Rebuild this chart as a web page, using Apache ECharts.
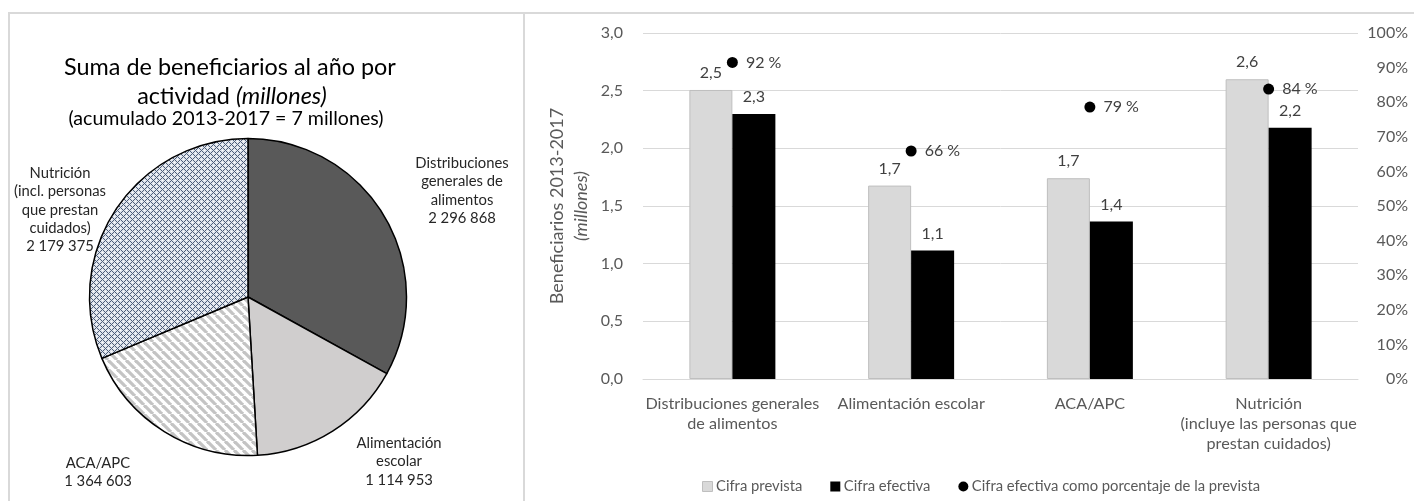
<!DOCTYPE html>
<html>
<head>
<meta charset="utf-8">
<script src="https://cdn.jsdelivr.net/npm/echarts@6/dist/echarts.min.js"></script>
<style>
html,body{margin:0;padding:0;background:#fff;}
#c{width:1415px;height:501px;}
</style>
</head>
<body>
<div id="c"></div>
<script>
// ---- data ----
const categories = ['Distribuciones generales\nde alimentos', 'Alimentación escolar', 'ACA/APC', 'Nutrición\n(incluye las personas que\nprestan cuidados)'];
const planned = [2.506, 1.677, 1.741, 2.599];          // Cifra prevista (millones)
const actual = [2.296868, 1.114953, 1.364603, 2.179375]; // Cifra efectiva (millones)
const pctActual = [0.915, 0.659, 0.786, 0.838];          // Cifra efectiva como porcentaje de la prevista
const leftTicks = [0, 3, 0.5];
const seriesNames = ['Cifra prevista', 'Cifra efectiva', 'Cifra efectiva como porcentaje de la prevista'];

const pieNames = ['Distribuciones\ngenerales de\nalimentos', 'Alimentación\nescolar', 'ACA/APC', 'Nutrición\n(incl. personas\nque prestan\ncuidados)'];
const pieValues = [2296868, 1114953, 1364603, 2179375];
const pieTitle = ['Suma de beneficiarios al año por', 'actividad ', '(millones)', '(acumulado 2013-2017 = 7 millones)'];

// ---- layout / style (not data) ----
const pieLabelPos = [[462, 154], [399, 434], [98, 454], [60, 164]];
const FONT = 'Lato, "Liberation Sans", sans-serif';

function makeStripes() {
  const c = document.createElement('canvas');
  c.width = 9; c.height = 9;
  const g = c.getContext('2d');
  g.fillStyle = '#fff'; g.fillRect(0, 0, 9, 9);
  g.strokeStyle = '#c4c4c4'; g.lineWidth = 3.2;
  for (const a of [-9, 0, 9]) {
    g.beginPath(); g.moveTo(a, 0); g.lineTo(a + 9, 9); g.stroke();
  }
  return c;
}
function makeDiamonds() {
  const c = document.createElement('canvas');
  c.width = 6; c.height = 6;
  const g = c.getContext('2d');
  g.fillStyle = '#dfe4ec'; g.fillRect(0, 0, 6, 6);
  g.fillStyle = '#4d5d78';
  const pts = [[3,0],[2,1],[4,1],[1,2],[5,2],[0,3],[1,4],[5,4],[2,5],[4,5]];
  for (const p of pts) g.fillRect(p[0], p[1], 1, 1);
  g.fillStyle = '#ffffff';
  g.fillRect(3,3,1,1); g.fillRect(0,0,1,1);
  return c;
}

const fmt1 = v => v.toFixed(1).replace('.', ',');
const fmtInt = v => String(v).replace(/\B(?=(\d{3})+(?!\d))/g, ' ');

const chart = echarts.init(document.getElementById('c'), null, {renderer: 'canvas'});

const pieColors = ['#595959', '#d0cece', {image: makeStripes(), repeat: 'repeat'}, {image: makeDiamonds(), repeat: 'repeat'}];

chart.setOption({
  animation: false,
  textStyle: {fontFamily: FONT},
  grid: {left: 643, top: 33, width: 715, height: 346, containLabel: false},
  legend: {
    data: [
      {name: seriesNames[0], icon: 'rect', itemStyle: {color: '#d9d9d9', borderColor: '#bfbfbf', borderWidth: 1}},
      {name: seriesNames[1], icon: 'rect'},
      {name: seriesNames[2], icon: 'circle'}
    ],
    left: 697, top: 474,
    itemWidth: 10, itemHeight: 10, itemGap: 28,
    textStyle: {fontFamily: FONT, fontSize: 14.8, color: '#595959', padding: [0, 0, 0, -1.5]}
  },
  xAxis: {
    type: 'category', data: categories,
    axisLine: {lineStyle: {color: '#d9d9d9', width: 1}},
    axisTick: {show: false},
    axisLabel: {color: '#595959', fontSize: 16.2, lineHeight: 20, margin: 15, interval: 0}
  },
  yAxis: [
    {
      type: 'value', min: leftTicks[0], max: leftTicks[1], interval: leftTicks[2],
      axisLine: {show: false}, axisTick: {show: false},
      splitLine: {lineStyle: {color: '#d9d9d9', width: 1}},
      axisLabel: {color: '#595959', fontSize: 16, margin: 20, formatter: v => fmt1(v)},
      name: '{a|Beneficiarios 2013-2017}\n{b|(millones)}',
      nameLocation: 'middle', nameRotate: 90, nameGap: 45,
      nameTextStyle: {
        color: '#595959', align: 'center', fontSize: 18, fontFamily: FONT,
        rich: {
          a: {fontFamily: FONT, fontSize: 18, color: '#595959', lineHeight: 24},
          b: {fontFamily: FONT, fontSize: 18, color: '#595959', fontStyle: 'italic', lineHeight: 24}
        }
      }
    },
    {
      type: 'value', min: 0, max: 1, interval: 0.1, position: 'right',
      axisLine: {show: false}, axisTick: {show: false}, splitLine: {show: false},
      axisLabel: {color: '#595959', fontSize: 16, margin: 50, align: 'right', formatter: v => Math.round(v * 100) + '%'}
    }
  ],
  series: [
    {
      name: seriesNames[0], type: 'bar', data: planned, barWidth: 43, barGap: '0%',
      itemStyle: {color: '#d9d9d9', borderColor: '#bfbfbf', borderWidth: 1},
      label: {show: true, position: 'top', distance: 9, color: '#404040', fontSize: 16, formatter: p => fmt1(p.value)}
    },
    {
      name: seriesNames[1], type: 'bar', data: actual, barWidth: 43,
      itemStyle: {color: '#000'},
      label: {show: true, position: 'top', distance: 9, color: '#404040', fontSize: 16, formatter: p => fmt1(p.value)}
    },
    {
      name: seriesNames[2], type: 'scatter', yAxisIndex: 1, data: pctActual, symbolSize: 11,
      itemStyle: {color: '#000', opacity: 1},
      label: {show: true, position: 'right', distance: 8, color: '#404040', fontSize: 16, formatter: p => Math.round(p.value * 100) + ' %'}
    },
    {
      type: 'pie', center: [248, 297], radius: 158.5, startAngle: 90, clockwise: true,
      data: pieValues.map((v, i) => ({name: pieNames[i], value: v, itemStyle: {color: pieColors[i]}})),
      itemStyle: {borderColor: '#000', borderWidth: 1.5},
      label: {show: true, position: 'outside', color: '#262626', fontSize: 14.8, lineHeight: 18.3,
        overflow: 'none', alignTo: 'none', edgeDistance: 0,
        formatter: p => p.name + '\n' + fmtInt(p.value)},
      labelLine: {show: false},
      labelLayout: p => ({x: pieLabelPos[p.dataIndex][0], y: pieLabelPos[p.dataIndex][1], align: 'center', verticalAlign: 'top'}),
      emphasis: {disabled: true}
    }
  ],
  graphic: [
    {type: 'line', shape: {x1: 8, y1: 13, x2: 1414, y2: 13}, style: {stroke: '#d9d9d9', lineWidth: 2}, silent: true},
    {type: 'line', shape: {x1: 9, y1: 12, x2: 9, y2: 501}, style: {stroke: '#d9d9d9', lineWidth: 2}, silent: true},
    {type: 'line', shape: {x1: 524, y1: 12, x2: 524, y2: 501}, style: {stroke: '#d9d9d9', lineWidth: 2}, silent: true},
    {type: 'text', x: 230, y: 67, style: {text: pieTitle[0], font: '23.4px ' + FONT, fill: '#000', align: 'center', verticalAlign: 'middle'}},
    {type: 'text', x: 232, y: 96, style: {
      text: '{a|' + pieTitle[1] + '}{b|' + pieTitle[2] + '}', align: 'center', verticalAlign: 'middle',
      rich: {a: {fontFamily: FONT, fontSize: 23.4, fill: '#000'}, b: {fontFamily: FONT, fontSize: 23.4, fontStyle: 'italic', fill: '#000'}}
    }},
    {type: 'text', x: 226, y: 119, style: {text: pieTitle[3], font: '19.6px ' + FONT, fill: '#000', align: 'center', verticalAlign: 'middle'}}
  ]
});
</script>
</body>
</html>
